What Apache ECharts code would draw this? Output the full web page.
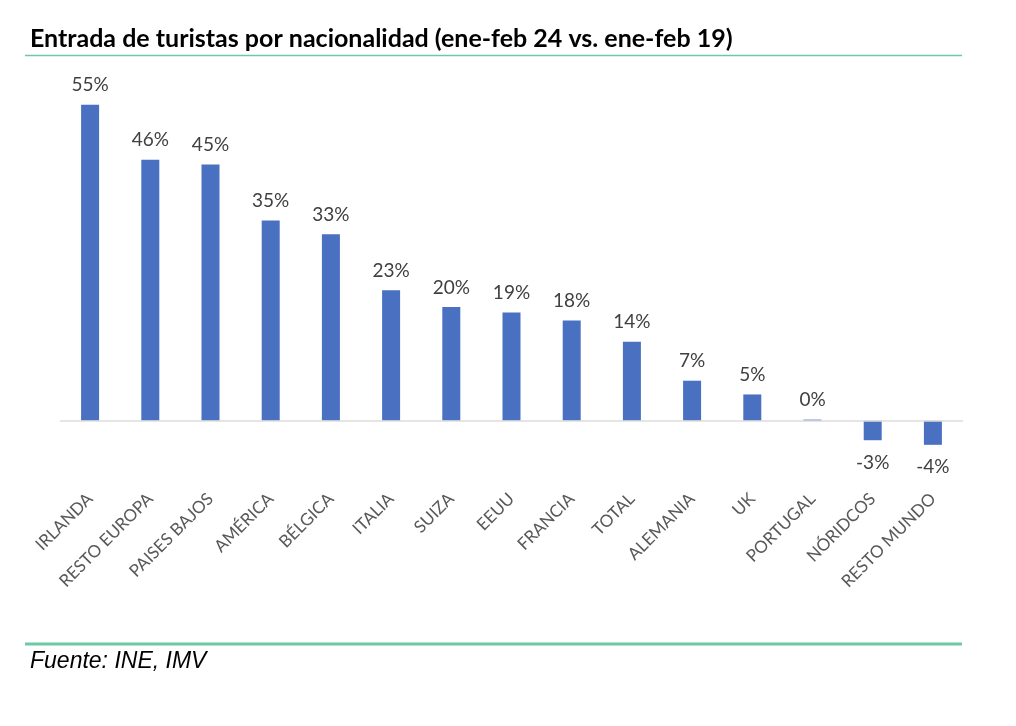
<!DOCTYPE html>
<html><head><meta charset="utf-8">
<script src="https://cdn.jsdelivr.net/npm/echarts@6/dist/echarts.min.js"></script>
<style>html,body{margin:0;padding:0;background:#fff}#c{width:1016px;height:726px}</style>
</head><body><div id="c"></div>
<script>
const categories = ['IRLANDA','RESTO EUROPA','PAISES BAJOS','AMÉRICA','BÉLGICA','ITALIA','SUIZA','EEUU','FRANCIA','TOTAL','ALEMANIA','UK','PORTUGAL','NÓRIDCOS','RESTO MUNDO'];
const values = [55.2, 45.6, 44.8, 35.0, 32.6, 22.8, 19.9, 18.9, 17.5, 13.8, 7.0, 4.6, 0.2, -3.4, -4.2];
const title = 'Entrada de turistas por nacionalidad (ene-feb 24 vs. ene-feb 19)';
const source = 'Fuente: INE, IMV';

const seriesData = values.map(v => ({value: v, label: {position: v < 0 ? 'bottom' : 'top', distance: v < 0 ? 13 : 10}}));

const chart = echarts.init(document.getElementById('c'), null, {renderer:'canvas'});
chart.setOption({
  animation:false,
  backgroundColor:'#fff',
  grid:{left:60, right:53, top:77.4, bottom:248},
  graphic:[
    {type:'text', left:30, top:26, style:{text:title, font:'bold 25px Lato', fill:'#000'}},
    {type:'line', shape:{x1:25,y1:55.5,x2:962,y2:55.5}, style:{stroke:'#6cc9a4', lineWidth:1.5}},
    {type:'line', shape:{x1:25,y1:644,x2:962,y2:644}, style:{stroke:'#6cc9a4', lineWidth:3}},
    {type:'text', left:30, top:650, style:{text:source, font:'italic 23px "Liberation Sans"', fill:'#000'}}
  ],
  xAxis:{type:'category', data:categories,
    axisLine:{show:false, onZero:false}, axisTick:{show:false},
    axisLabel:{rotate:45, interval:0, margin:18, color:'#595959', fontSize:17, fontFamily:'Lato'}},
  yAxis:{type:'value', min:-10, max:60, show:false, splitLine:{show:false}},
  series:[{type:'bar', data:seriesData, barWidth:18,
    itemStyle:{color:'#4a70c2'},
    label:{show:true, color:'#404040', fontSize:19, fontFamily:'Lato',
      formatter:p=>Math.round(p.value)+'%'},
    markLine:{silent:true, symbol:'none', label:{show:false},
      lineStyle:{color:'#dcdcdc', type:'solid', width:1.5},
      data:[{yAxis:0}]}
  }]
});
</script></body></html>
